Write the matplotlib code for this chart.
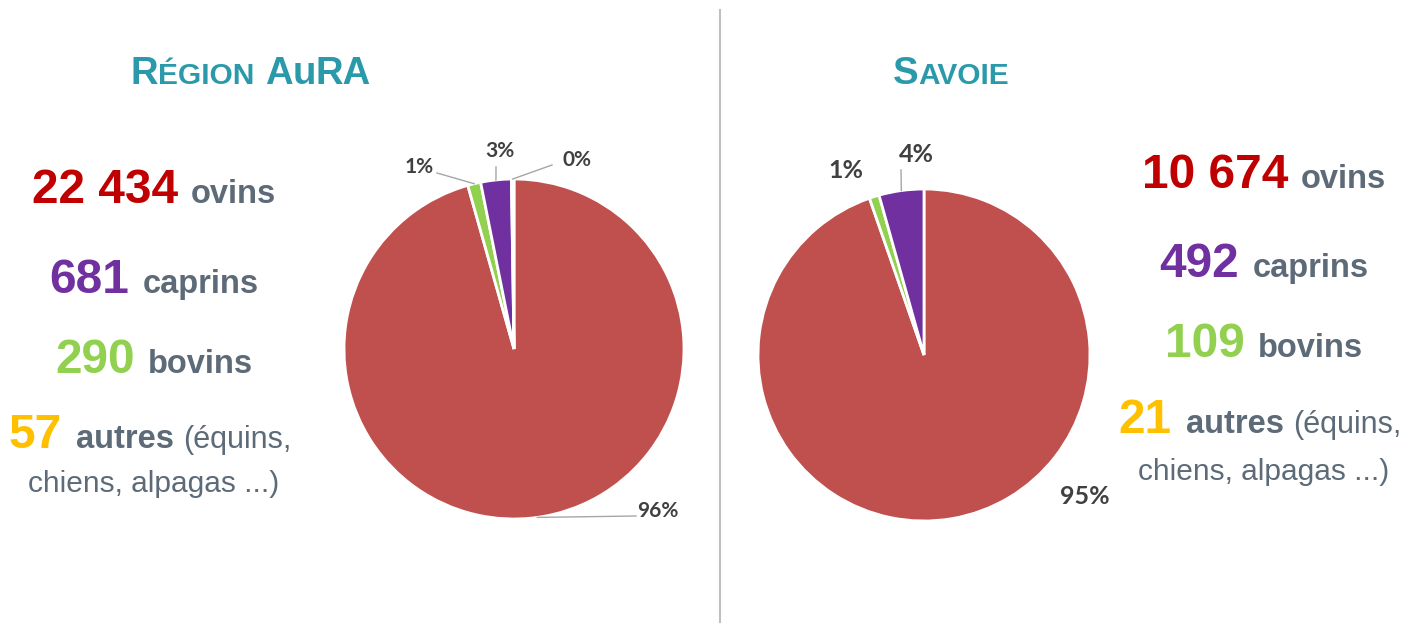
import numpy as np
import matplotlib
matplotlib.use("Agg")
import matplotlib.pyplot as plt

# --- data ---------------------------------------------------------------
# pie slice order (clockwise from 12 o'clock)
species = ["ovins", "bovins", "caprins", "autres"]
aura_counts = [22434, 290, 681, 57]
savoie_counts = [10674, 109, 492, 21]
# the Savoie pie leaves out "autres"
savoie_pie_counts = savoie_counts[:3]

# order of the count lines beside each pie
text_order = ["ovins", "caprins", "bovins", "autres"]

aura_title = [("R", "big"), ("ÉGION", "small"), (" ", "gap"), ("A", "big"), ("u", "big"), ("RA", "big")]
savoie_title = [("S", "big"), ("AVOIE", "small")]

count_colors = {"ovins": "#c00000", "caprins": "#7030a0",
                "bovins": "#92d050", "autres": "#ffc000"}
slice_colors = ["#c0504d", "#92d050", "#7030a0", "#ffc000"]
text_gray = "#5d6a78"
title_color = "#2a9aab"
label_color = "#404040"

W, H = 1405, 623
fig = plt.figure(figsize=(W / 100, H / 100), dpi=100)
ax = fig.add_axes([0, 0, 1, 1])

renderer = fig.canvas.get_renderer()
SANS = "Liberation Sans"


def run_line(cx, y, runs):
    """Draw several text runs side by side on one baseline, centred on cx."""
    items = []
    for s, size, color, weight, gap in runs:
        t = ax.text(0, y, s, fontsize=size, color=color, fontweight=weight,
                    family=SANS, ha="left", va="baseline")
        items.append((t, t.get_window_extent(renderer).width, gap))
    total = sum(w for _, w, _ in items) + sum(g for _, _, g in items[:-1])
    x = cx - total / 2
    for t, w, gap in items:
        t.set_x(x)
        x += w + gap


def title(cx, y, parts):
    runs = []
    for s, kind in parts:
        if kind == "gap":
            runs[-1] = runs[-1][:4] + (10,)
            continue
        size = 27.5 if kind == "big" else 21.5
        runs.append((s.upper() if kind == "small" else s, size, title_color, "bold", 0))
    run_line(cx, y, runs)


def count_block(cx, ys, counts, tail_y):
    lookup = dict(zip(species, counts))
    for name, y in zip(text_order, ys):
        num = f"{lookup[name]:,}".replace(",", " ")
        if name == "autres":
            run_line(cx - 4, y, [(num, 34.5, count_colors[name], "bold", 14),
                                 ("autres", 23.5, text_gray, "bold", 9),
                                 ("(équins,", 22, text_gray, "normal", 0)])
        else:
            run_line(cx, y, [(num, 34.5, count_colors[name], "bold", 13),
                             (name, 23.5, text_gray, "bold", 0)])
    ax.text(cx, tail_y, "chiens, alpagas ...)", fontsize=21.5, color=text_gray,
            family=SANS, ha="center", va="baseline")


def pie(center, radius, counts, label_pos, label_size, leaders):
    # the y axis points down, so counterclock=True runs clockwise on screen
    wedges, _ = ax.pie(counts, colors=slice_colors[:len(counts)], startangle=-90,
                       counterclock=True, center=center, radius=radius,
                       wedgeprops=dict(edgecolor="white", linewidth=2),
                       frame=True)
    total = sum(counts)
    for w, n, pos, lead in zip(wedges, counts, label_pos, leaders):
        pct = f"{round(100 * n / total):.0f}%"
        ax.text(pos[0], pos[1], pct, fontsize=label_size, fontweight="bold",
                color=label_color, family="Lato", ha="center", va="center")
        if lead is not None:
            mid = np.deg2rad((w.theta1 + w.theta2) / 2)
            ex = center[0] + radius * np.cos(mid)
            ey = center[1] + radius * np.sin(mid)
            ax.plot([ex, lead[0]], [ey, lead[1]], color="#a6a6a6", lw=1)


# left half
title(251, 84, aura_title)
count_block(154, [203, 293, 373, 448], aura_counts, 492)
pie((514, 349), 170, aura_counts,
    [(658, 511), (419, 167), (500, 151), (577, 160)], 15,
    [(636, 516), (437, 173), (496, 167), (552, 165)])

# right half
title(951, 84, savoie_title)
count_block(1264, [188, 277, 357, 433], savoie_counts, 480)
pie((924, 355), 166, savoie_pie_counts,
    [(1085, 496), (846, 171), (916, 155)], 18,
    [None, None, (901, 170)])

# divider
ax.plot([720, 720], [10, H], color="#bfbfbf", lw=1.5)

ax.set_xlim(0, W)
ax.set_ylim(H, 0)
ax.axis("off")

fig.savefig("out.png", dpi=100, facecolor="white")
